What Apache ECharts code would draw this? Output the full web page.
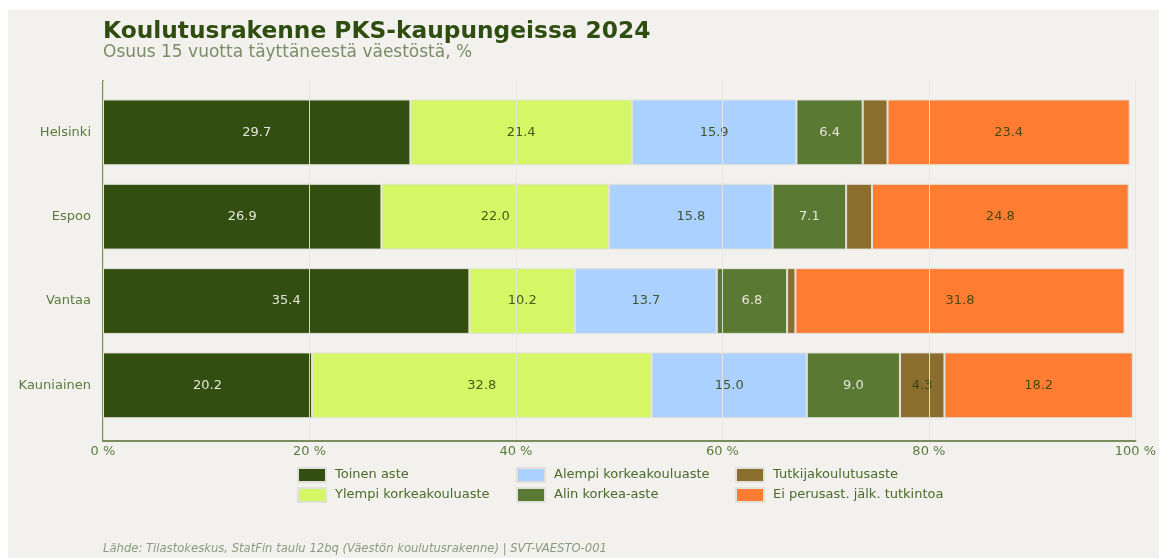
<!DOCTYPE html>
<html>
<head>
<meta charset="utf-8">
<script src="https://cdn.jsdelivr.net/npm/echarts@6/dist/echarts.min.js"></script>
<style>
html,body{margin:0;padding:0;background:#fff;}
#pic_chart{position:absolute;left:8px;top:10px;width:1151px;height:548px;background:#f2f1ee;}
</style>
</head>
<body>
<div id="pic_chart"></div>
<script>
var cities = ['Helsinki', 'Espoo', 'Vantaa', 'Kauniainen'];
var toinenAste = [29.7, 26.9, 35.4, 20.2];
var ylempiKk = [21.4, 22.0, 10.2, 32.8];
var alempiKk = [15.9, 15.8, 13.7, 15.0];
var alinKorkea = [6.4, 7.1, 6.8, 9.0];
var tutkija = [2.4, 2.5, 0.8, 4.3];
var eiTutkintoa = [23.4, 24.8, 31.8, 18.2];
var xTicks = [0, 20, 40, 60, 80, 100];

var font = 'DejaVu Sans';
var tickColor = '#5b7a3c';
var lightLabel = '#e6e6dc';
var darkLabel = 'rgba(45,62,12,0.85)';

function seriesOf(name, data, color, labelColor) {
    return {
        name: name,
        type: 'bar',
        stack: 'total',
        xAxisIndex: 0,
        yAxisIndex: 0,
        barWidth: '78%',
        data: data,
        itemStyle: {color: color, borderColor: '#e2e0da', borderWidth: 1},
        label: {
            show: true,
            position: 'inside',
            color: labelColor,
            fontFamily: font,
            fontSize: 13,
            formatter: function (p) { return p.value >= 3 ? p.value.toFixed(1) : ''; }
        }
    };
}

function legendCol(left, names) {
    return {
        orient: 'vertical',
        left: left,
        top: 457,
        padding: 0,
        itemWidth: 28,
        itemHeight: 14,
        itemGap: 4,
        icon: 'rect',
        data: names,
        textStyle: {fontFamily: font, fontSize: 13, color: '#4a6a2a', padding: [0, 0, 0, 4]}
    };
}

var myChart = echarts.init(document.getElementById('pic_chart'));
var option = {
    backgroundColor: '#f2f1ee',
    animation: false,
    title: [
        {
            text: 'Koulutusrakenne PKS-kaupungeissa 2024',
            left: 95, top: 10, padding: 0,
            textStyle: {fontFamily: font, fontWeight: 'bold', fontSize: 23.3, color: '#2f4d0f'}
        },
        {
            text: 'Osuus 15 vuotta täyttäneestä väestöstä, %',
            left: 95, top: 34, padding: 0,
            textStyle: {fontFamily: font, fontWeight: 'normal', fontSize: 17, color: '#7b8d66'}
        },
        {
            text: 'Lähde: Tilastokeskus, StatFin taulu 12bq (Väestön koulutusrakenne) | SVT-VAESTO-001',
            left: 95, top: 533, padding: 0,
            textStyle: {fontFamily: font, fontStyle: 'italic', fontWeight: 'normal', fontSize: 11.6, color: '#8c9a7c'}
        }
    ],
    legend: [
        legendCol(289, ['Toinen aste', 'Ylempi korkeakouluaste']),
        legendCol(508, ['Alempi korkeakouluaste', 'Alin korkea-aste']),
        legendCol(727, ['Tutkijakoulutusaste', 'Ei perusast. jälk. tutkintoa'])
    ],
    grid: [
        {left: 95, right: 21, top: 80.2, height: 337.3},
        {left: 95, right: 21, top: 71, height: 360}
    ],
    xAxis: [
        {type: 'value', gridIndex: 0, min: 0, max: 100, show: false},
        {
            type: 'value', gridIndex: 1, min: 0, max: 100, interval: 20, z: 5,
            axisLine: {show: true, lineStyle: {color: '#7a8c5e', width: 2}},
            axisTick: {show: false},
            splitLine: {show: true, lineStyle: {color: 'rgba(232,230,226,0.9)', width: 1}},
            axisLabel: {
                fontFamily: font, fontSize: 13, color: tickColor, margin: 4,
                formatter: function (v) { return xTicks.indexOf(v) >= 0 ? v + ' %' : ''; }
            }
        }
    ],
    yAxis: [
        {
            type: 'category', gridIndex: 0, data: cities, inverse: true,
            axisLine: {show: false}, axisTick: {show: false},
            axisLabel: {fontFamily: font, fontSize: 13, color: tickColor, margin: 12}
        },
        {
            type: 'value', gridIndex: 1, min: 0, max: 1, offset: 7,
            axisLine: {show: true, lineStyle: {color: '#7a8c5e', width: 2}},
            axisTick: {show: false}, axisLabel: {show: false}, splitLine: {show: false}
        }
    ],
    series: [
        seriesOf('Toinen aste', toinenAste, '#324e10', lightLabel),
        seriesOf('Ylempi korkeakouluaste', ylempiKk, '#d5f765', darkLabel),
        seriesOf('Alempi korkeakouluaste', alempiKk, '#aad1ff', darkLabel),
        seriesOf('Alin korkea-aste', alinKorkea, '#5a7a33', lightLabel),
        seriesOf('Tutkijakoulutusaste', tutkija, '#8b6d2e', darkLabel),
        seriesOf('Ei perusast. jälk. tutkintoa', eiTutkintoa, '#ff7d32', darkLabel)
    ]
};
myChart.setOption(option);
</script>
</body>
</html>
